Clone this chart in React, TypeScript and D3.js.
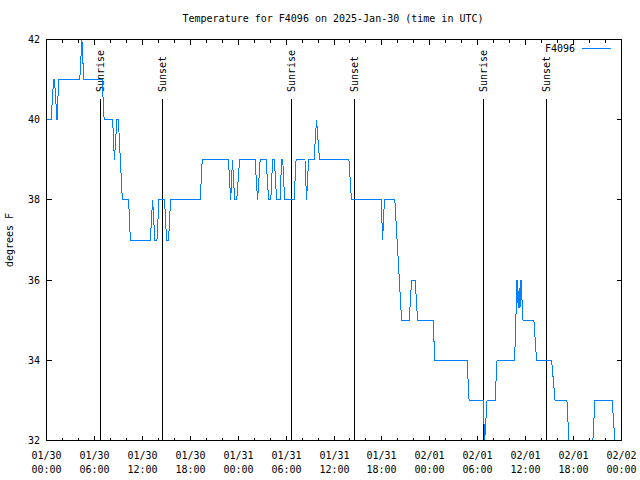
import React from "react";
import * as d3 from "d3";

const title = "Temperature for F4096 on 2025-Jan-30 (time in UTC)";
const seriesName = "F4096";
const yLabel = "degrees F";

const times: string[] = [
  "2025-01-30T00:00", "2025-01-30T00:35", "2025-01-30T00:53", "2025-01-30T01:00", "2025-01-30T01:19",
  "2025-01-30T01:32", "2025-01-30T04:10", "2025-01-30T04:26", "2025-01-30T04:40", "2025-01-30T06:58",
  "2025-01-30T07:13", "2025-01-30T08:17", "2025-01-30T08:30", "2025-01-30T08:49", "2025-01-30T09:00",
  "2025-01-30T09:30", "2025-01-30T10:17", "2025-01-30T10:30", "2025-01-30T13:00", "2025-01-30T13:17",
  "2025-01-30T13:34", "2025-01-30T13:50", "2025-01-30T14:05", "2025-01-30T14:47", "2025-01-30T15:02",
  "2025-01-30T15:17", "2025-01-30T15:32", "2025-01-30T19:15", "2025-01-30T19:30", "2025-01-30T22:47",
  "2025-01-30T23:04", "2025-01-30T23:17", "2025-01-30T23:34", "2025-01-30T23:49", "2025-01-31T00:11",
  "2025-01-31T02:07", "2025-01-31T02:26", "2025-01-31T02:45", "2025-01-31T03:30", "2025-01-31T03:49",
  "2025-01-31T04:05", "2025-01-31T04:19", "2025-01-31T04:32", "2025-01-31T04:49", "2025-01-31T05:15",
  "2025-01-31T05:26", "2025-01-31T05:35", "2025-01-31T05:49", "2025-01-31T07:00", "2025-01-31T07:15",
  "2025-01-31T08:22", "2025-01-31T08:34", "2025-01-31T08:49", "2025-01-31T09:30", "2025-01-31T09:49",
  "2025-01-31T10:11", "2025-01-31T13:52", "2025-01-31T14:11", "2025-01-31T17:55", "2025-01-31T18:05",
  "2025-01-31T18:19", "2025-01-31T19:37", "2025-01-31T20:28", "2025-01-31T21:25", "2025-01-31T21:43",
  "2025-01-31T22:10", "2025-01-31T22:28", "2025-02-01T00:25", "2025-02-01T00:37", "2025-02-01T04:40",
  "2025-02-01T04:55", "2025-02-01T06:40", "2025-02-01T06:52", "2025-02-01T07:10", "2025-02-01T08:10",
  "2025-02-01T08:25", "2025-02-01T10:37", "2025-02-01T10:55", "2025-02-01T11:04", "2025-02-01T11:11",
  "2025-02-01T11:17", "2025-02-01T11:25", "2025-02-01T11:40", "2025-02-01T13:02", "2025-02-01T13:22",
  "2025-02-01T15:15", "2025-02-01T15:41", "2025-02-01T17:10", "2025-02-01T17:25", "2025-02-01T20:25",
  "2025-02-01T20:40", "2025-02-01T22:50", "2025-02-01T23:10",
];

const temps: number[] = [
  40, 40, 41, 41, 40,
  41, 41, 42, 41, 41,
  40, 40, 39, 40, 40,
  38, 38, 37, 37, 38,
  37, 37, 38, 38, 37,
  37, 38, 38, 39, 39,
  38, 39, 38, 38, 39,
  39, 38, 39, 39, 38,
  38, 39, 39, 38, 38,
  39, 39, 38, 38, 39,
  39, 38, 39, 39, 40,
  39, 39, 38, 38, 37,
  38, 38, 35, 35, 36,
  36, 35, 35, 34, 34,
  33, 33, 32, 33, 33,
  34, 34, 36, 35.3, 35.8,
  35.3, 36, 35, 35, 34,
  34, 33, 33, 32, 32,
  33, 33, 32,
];

const sunEventNames: string[] = ["Sunrise", "Sunset", "Sunrise", "Sunset", "Sunrise", "Sunset"];
const sunEventTimes: string[] = [
  "2025-01-30T06:43", "2025-01-30T14:32", "2025-01-31T06:41",
  "2025-01-31T14:33", "2025-02-01T06:40", "2025-02-01T14:34",
];

const yTicks: number[] = [32, 34, 36, 38, 40, 42];
const xTickTimes: string[] = [
  "2025-01-30T00:00", "2025-01-30T06:00", "2025-01-30T12:00", "2025-01-30T18:00",
  "2025-01-31T00:00", "2025-01-31T06:00", "2025-01-31T12:00", "2025-01-31T18:00",
  "2025-02-01T00:00", "2025-02-01T06:00", "2025-02-01T12:00", "2025-02-01T18:00",
  "2025-02-02T00:00",
];

const parse = d3.utcParse("%Y-%m-%dT%H:%M");
const FONT = "'DejaVu Sans Mono', monospace";
const LINE_COLOR = "#0080ff";

export default function App() {
  const W = 640, H = 480;
  const left = 46.5, right = 621.5, top = 39.5, bottom = 440.5;
  const x = d3.scaleUtc()
    .domain([parse("2025-01-30T00:00")!, parse("2025-02-02T00:00")!])
    .range([left, right]);
  const y = d3.scaleLinear().domain([32, 42]).range([bottom, top]);

  const data = times.map((t, i) => ({ t: parse(t)!, v: temps[i] }));
  const line = d3.line<{ t: Date; v: number }>()
    .x(d => x(d.t))
    .y(d => y(d.v));

  const minorTicks = x.ticks(d3.utcHour.every(2)!);
  const majorTicks = xTickTimes.map(s => parse(s)!);
  const fmtDate = d3.utcFormat("%m/%d");
  const fmtTime = d3.utcFormat("%H:%M");
  const snap = (v: number) => Math.round(v - 0.5) + 0.5;

  return (
    <svg width={W} height={H} style={{ display: "block", position: "absolute", left: 0, top: 0, background: "#fff" }}
      fontFamily={FONT} fontSize={10}>
      <rect x={0} y={0} width={W} height={H} fill="#fff" />
      <defs>
        <clipPath id="plotClip">
          <rect x={left} y={top} width={right - left} height={bottom - top} />
        </clipPath>
      </defs>
      <text x={333} y={22} textAnchor="middle" fill="#000">{title}</text>

      {/* minor x ticks */}
      {minorTicks.map((t, i) => {
        const xv = snap(x(t));
        return (
          <g key={"mi" + i} stroke="#000" shapeRendering="crispEdges">
            <line x1={xv} x2={xv} y1={bottom} y2={bottom - 3} />
            <line x1={xv} x2={xv} y1={top} y2={top + 3} />
          </g>
        );
      })}
      {/* major x ticks & labels */}
      {majorTicks.map((t, i) => {
        const xv = snap(x(t));
        return (
          <g key={"ma" + i}>
            <line x1={xv} x2={xv} y1={bottom} y2={bottom - 5} stroke="#000" shapeRendering="crispEdges" />
            <line x1={xv} x2={xv} y1={top} y2={top + 5} stroke="#000" shapeRendering="crispEdges" />
            <text x={xv} y={459} textAnchor="middle" fill="#000">{fmtDate(t)}</text>
            <text x={xv} y={473} textAnchor="middle" fill="#000">{fmtTime(t)}</text>
          </g>
        );
      })}
      {/* y ticks */}
      {yTicks.map((v, i) => {
        const yv = snap(y(v));
        return (
          <g key={"y" + i}>
            <line x1={left} x2={left + 5} y1={yv} y2={yv} stroke="#000" shapeRendering="crispEdges" />
            <line x1={right} x2={right - 5} y1={yv} y2={yv} stroke="#000" shapeRendering="crispEdges" />
            <text x={40} y={yv + 3.5} textAnchor="end" fill="#000">{v}</text>
          </g>
        );
      })}
      <text transform={`translate(13,240) rotate(-90)`} textAnchor="middle" fill="#000">{yLabel}</text>

      {/* sunrise/sunset markers */}
      {sunEventTimes.map((s, i) => {
        const xv = snap(x(parse(s)!));
        return (
          <g key={"sun" + i}>
            <line x1={xv} x2={xv} y1={99} y2={bottom} stroke="#000" shapeRendering="crispEdges" />
            <text transform={`translate(${xv + 3.5},92) rotate(-90)`} textAnchor="start" fill="#000">
              {sunEventNames[i]}
            </text>
          </g>
        );
      })}

      {/* data line */}
      <path d={line(data) ?? ""} fill="none" stroke={LINE_COLOR} strokeWidth={1}
        shapeRendering="crispEdges" clipPath="url(#plotClip)" />

      {/* border */}
      <rect x={left} y={top} width={right - left} height={bottom - top} fill="none" stroke="#000"
        shapeRendering="crispEdges" />

      {/* legend */}
      <text x={575} y={52} textAnchor="end" fill="#000">{seriesName}</text>
      <line x1={582} x2={611} y1={48.5} y2={48.5} stroke={LINE_COLOR} shapeRendering="crispEdges" />
    </svg>
  );
}
